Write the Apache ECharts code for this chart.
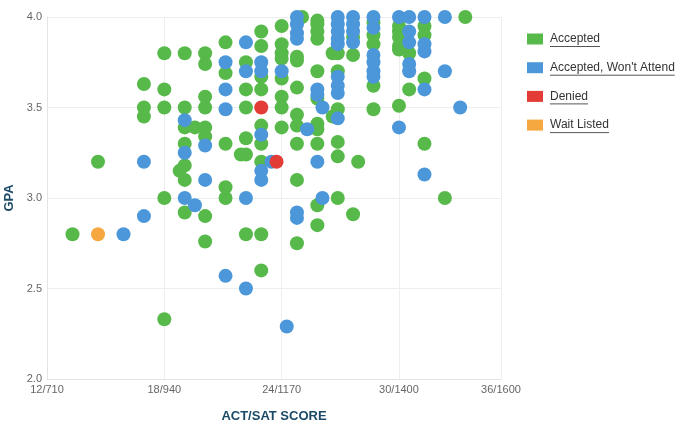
<!DOCTYPE html>
<html>
<head>
<meta charset="utf-8">
<script src="https://cdn.jsdelivr.net/npm/echarts@6/dist/echarts.min.js"></script>
<style>
  html, body { margin: 0; padding: 0; background: #fff; }
  #main { width: 680px; height: 431px; }
</style>
</head>
<body>
<div id="main"></div>
<script>
// x is placed on the SAT scale (the axis is linear in SAT), y is GPA
const actTicks = [12, 18, 24, 30, 36];
const satTicks = [710, 940, 1170, 1400, 1600];

const accepted = [
  [760, 2.80], [810, 3.20],
  [900, 3.63], [900, 3.50], [900, 3.45],
  [940, 3.80], [940, 3.60], [940, 3.50], [940, 3.00], [940, 2.33],
  [980, 3.80], [980, 3.50], [980, 3.39], [980, 3.30], [980, 3.18], [970, 3.15], [980, 3.10], [980, 2.92],
  [1000, 3.39],
  [1020, 3.80], [1020, 3.74], [1020, 3.56], [1020, 3.50], [1020, 3.39], [1020, 3.34], [1020, 2.90], [1020, 2.76],
  [1060, 3.86], [1060, 3.69], [1060, 3.30], [1060, 3.06], [1060, 3.00],
  [1090, 3.24], [1100, 3.24], [1100, 3.75], [1100, 3.60], [1100, 3.50], [1100, 3.33], [1100, 2.80],
  [1130, 3.92], [1130, 3.84], [1130, 3.67], [1130, 3.60], [1130, 3.40], [1130, 3.30], [1130, 3.20], [1130, 2.80], [1130, 2.60],
  [1170, 3.95], [1170, 3.85], [1170, 3.80], [1170, 3.77], [1170, 3.66], [1170, 3.56], [1170, 3.50], [1170, 3.39],
  [1200, 3.78], [1200, 3.76], [1200, 3.61], [1200, 3.46], [1200, 3.40], [1200, 3.30], [1200, 3.10], [1200, 2.75], [1210, 4.00],
  [1240, 3.98], [1240, 3.96], [1240, 3.92], [1240, 3.88], [1240, 3.70], [1240, 3.55], [1240, 3.41], [1240, 3.38], [1240, 3.30], [1240, 2.96], [1240, 2.85],
  [1270, 3.45], [1270, 3.80],
  [1280, 3.80], [1280, 3.70], [1280, 3.49], [1280, 3.31], [1280, 3.23], [1280, 3.00],
  [1310, 3.89], [1310, 3.79], [1310, 2.91],
  [1320, 3.20],
  [1350, 3.97], [1350, 3.90], [1350, 3.85], [1350, 3.62], [1350, 3.49],
  [1400, 3.95], [1400, 3.92], [1400, 3.89], [1400, 3.84], [1400, 3.82], [1410, 3.88], [1400, 3.51],
  [1420, 3.80], [1420, 3.60],
  [1450, 3.95], [1450, 3.90], [1450, 3.66], [1450, 3.30],
  [1490, 3.00],
  [1530, 4.00]
];

const wontAttend = [
  [860, 2.80], [900, 3.20], [900, 2.90],
  [980, 3.43], [980, 3.25], [980, 3.00], [1000, 2.96],
  [1020, 3.29], [1020, 3.10],
  [1060, 3.75], [1060, 3.60], [1060, 3.49], [1060, 2.57],
  [1100, 3.86], [1100, 3.70], [1100, 3.00], [1100, 2.50],
  [1130, 3.75], [1130, 3.70], [1130, 3.35], [1130, 3.15], [1130, 3.10], [1150, 3.20],
  [1170, 3.70], [1180, 2.29],
  [1200, 4.00], [1200, 3.96], [1200, 3.91], [1200, 3.88], [1200, 2.92], [1200, 2.89],
  [1220, 3.38],
  [1240, 3.60], [1240, 3.57], [1240, 3.20], [1250, 3.50], [1250, 3.00],
  [1280, 4.00], [1280, 3.96], [1280, 3.92], [1280, 3.88], [1280, 3.85], [1280, 3.67], [1280, 3.62], [1280, 3.58], [1280, 3.44],
  [1310, 4.00], [1310, 3.96], [1310, 3.92], [1310, 3.86],
  [1350, 4.00], [1350, 3.94], [1350, 3.79], [1350, 3.75], [1350, 3.70], [1350, 3.67],
  [1400, 4.00], [1400, 3.39],
  [1420, 4.00], [1420, 3.92], [1420, 3.86], [1420, 3.74], [1420, 3.70],
  [1450, 4.00], [1450, 3.85], [1450, 3.81], [1450, 3.60], [1450, 3.13],
  [1490, 4.00], [1490, 3.70],
  [1520, 3.50]
];

const denied = [[1130, 3.50], [1160, 3.20]];
const waitListed = [[810, 2.80]];

const seriesNames = ['Accepted', "Accepted, Won't Attend", 'Denied', 'Wait Listed'];
const seriesColors = ['#57b94a', '#4b97d9', '#e33b36', '#f4a83f'];

const FONT = 'Arial, "Liberation Sans", sans-serif';
const chart = echarts.init(document.getElementById('main'));

function tickLabel(v) {
  const i = satTicks.indexOf(v);
  return i >= 0 ? actTicks[i] + '/' + satTicks[i] : '';
}

function dots(i, data) {
  return {
    name: seriesNames[i],
    type: 'scatter',
    data: data,
    symbolSize: 14,
    itemStyle: { color: seriesColors[i], opacity: 1 },
    emphasis: { disabled: true }
  };
}

// legend text is underlined in the original; zrender has no underline, so draw short lines
const measure = document.createElement('canvas').getContext('2d');
measure.font = '12px ' + FONT;
const legendLeft = 527, legendTop = 33, legendStep = 28.7, textX = legendLeft + 16 + 7;
const underlines = seriesNames.map((n, i) => ({
  type: 'line',
  silent: true,
  shape: {
    x1: textX, y1: legendTop + i * legendStep + 13.5,
    x2: textX + measure.measureText(n).width, y2: legendTop + i * legendStep + 13.5
  },
  style: { stroke: '#555', lineWidth: 1 }
}));

const option = {
  animation: false,
  color: seriesColors,
  grid: { left: 47, right: 179, top: 17, bottom: 52, outerBoundsMode: 'none' },
  legend: {
    orient: 'vertical',
    left: legendLeft,
    top: legendTop,
    padding: 0,
    icon: 'rect',
    itemWidth: 16,
    itemHeight: 11,
    itemGap: 16.7,
    textStyle: { fontSize: 12, color: '#333', fontFamily: FONT, padding: [0, 0, 0, 2] }
  },
  graphic: underlines,
  xAxis: {
    type: 'value',
    min: 710,
    max: 1600,
    name: 'ACT/SAT SCORE',
    nameLocation: 'middle',
    nameGap: 31,
    nameTextStyle: { fontSize: 13, fontWeight: 'bold', color: '#1b4a68', fontFamily: FONT },
    axisLine: { show: true, lineStyle: { color: '#e4e4e4' } },
    axisTick: { show: false, customValues: satTicks },
    axisLabel: {
      customValues: satTicks,
      formatter: tickLabel,
      color: '#666',
      fontSize: 11,
      margin: 5,
      fontFamily: FONT
    },
    splitLine: { show: true, lineStyle: { color: '#eeeeee' } }
  },
  yAxis: {
    type: 'value',
    min: 2,
    max: 4,
    interval: 0.5,
    name: 'GPA',
    nameLocation: 'middle',
    nameGap: 28,
    nameRotate: 90,
    nameTextStyle: { fontSize: 13, fontWeight: 'bold', color: '#1b4a68', fontFamily: FONT },
    axisLine: { show: true, lineStyle: { color: '#e4e4e4' } },
    axisTick: { show: false },
    axisLabel: {
      formatter: v => v.toFixed(1),
      color: '#666',
      fontSize: 11,
      margin: 5,
      fontFamily: FONT
    },
    splitLine: { show: true, lineStyle: { color: '#eeeeee' } }
  },
  series: [
    dots(0, accepted),
    dots(1, wontAttend),
    dots(2, denied),
    dots(3, waitListed)
  ]
};

chart.setOption(option);
</script>
</body>
</html>
